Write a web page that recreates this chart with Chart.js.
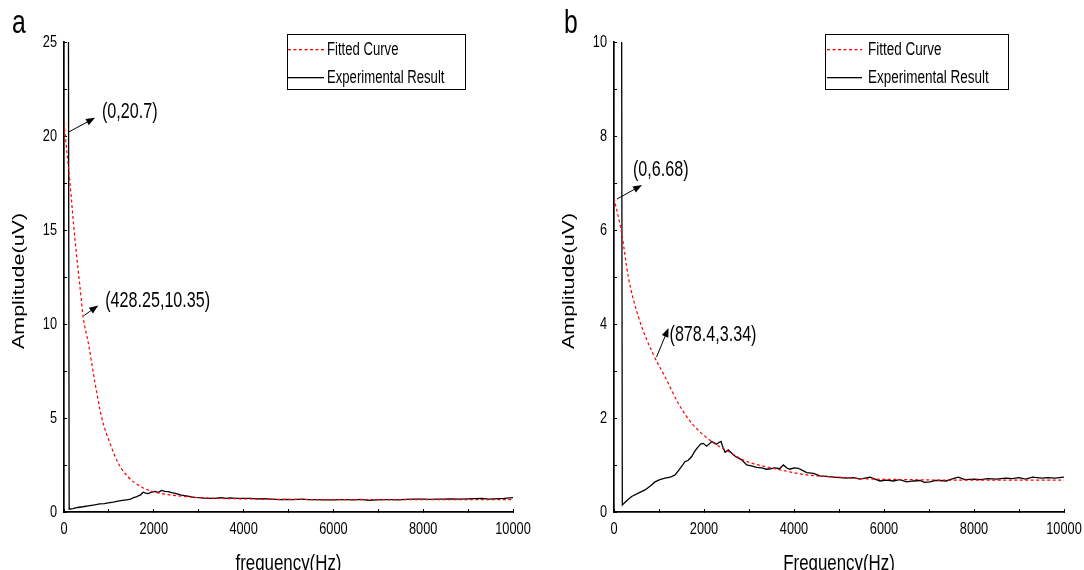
<!DOCTYPE html>
<html lang="en">
<head>
<meta charset="UTF-8">
<title>Amplitude vs frequency</title>
<script src="https://cdn.jsdelivr.net/npm/chart.js"></script>
<style>
  html, body { margin: 0; padding: 0; background: #fff; overflow: hidden; }
  .panel { position: absolute; top: 0; }
</style>
</head>
<body>
<div class="panel" style="left:0"><canvas id="chartA" width="542" height="570"></canvas></div>
<div class="panel" style="left:542px"><canvas id="chartB" width="542" height="570"></canvas></div>

<script>
// ---- panel a ----
const fitA_x = [0, 133, 244, 355, 428.25, 541, 689, 837, 1022, 1207, 1430, 1726, 2022, 2393, 3059, 3500, 4000, 5000, 6000, 7000, 8000, 9000, 10000];
const fitA_y = [20.7, 17.5, 14.5, 12.0, 10.35, 9.0, 6.9, 5.05, 3.67, 2.6, 1.86, 1.33, 1.06, 0.9, 0.76, 0.72, 0.7, 0.67, 0.66, 0.66, 0.66, 0.66, 0.66];

const expA_x = [
  90, 115, 200, 300, 420,
  541, 680, 800, 900, 985,
  1100, 1200, 1300, 1393, 1480,
  1550, 1610, 1652, 1700, 1763,
  1820, 1874, 1950, 2022, 2100,
  2170, 2250, 2319, 2400, 2500,
  2615, 2750, 2850, 2911, 3000,
  3133, 3250, 3350, 3500, 3620,
  3700, 3850, 4000, 4150, 4300,
  4450, 4600, 4800, 4950, 5100,
  5300, 5450, 5600, 5800, 6000,
  6150, 6300, 6450, 6600, 6800,
  6950, 7100, 7300, 7450, 7600,
  7800, 8000, 8150, 8300, 8450,
  8600, 8800, 9000, 9150, 9300,
  9450, 9600, 9800, 10000
];
const expA_y = [
  40, 0.15, 0.18, 0.24, 0.28,
  0.33, 0.38, 0.43, 0.45, 0.49,
  0.52, 0.58, 0.62, 0.65, 0.68,
  0.76, 0.8, 0.86, 0.9, 1.05,
  1.0, 0.98, 1.06, 1.1, 1.04,
  1.15, 1.1, 1.08, 1.03, 0.98,
  0.9, 0.85, 0.8, 0.78, 0.76,
  0.74, 0.73, 0.72, 0.76, 0.73,
  0.75, 0.72, 0.72, 0.73, 0.7,
  0.71, 0.69, 0.66, 0.67, 0.66,
  0.68, 0.66, 0.66, 0.64, 0.64,
  0.66, 0.66, 0.65, 0.67, 0.62,
  0.65, 0.66, 0.66, 0.64, 0.67,
  0.68, 0.69, 0.67, 0.69, 0.68,
  0.7, 0.69, 0.7, 0.71, 0.72,
  0.69, 0.7, 0.72, 0.76
];
const notesA = [
  { x: 0, y: 20.7, text: '(0,20.7)' },
  { x: 428.25, y: 10.35, text: '(428.25,10.35)' }
];

// ---- panel b ----
const fitB_x = [0, 171, 318, 540, 878.4, 1133, 1430, 1726, 2170, 2615, 2800, 3059, 3541, 4282, 5022, 5762, 6504, 7244, 8000, 9000, 10000];
const fitB_y = [6.68, 5.93, 5.0, 4.16, 3.34, 2.88, 2.31, 1.89, 1.50, 1.25, 1.14, 1.04, 0.93, 0.79, 0.74, 0.70, 0.69, 0.68, 0.68, 0.68, 0.68];

const expB_x = [
  140, 185, 280, 392, 540,
  689, 800, 911, 1020, 1133,
  1250, 1356, 1450, 1578, 1650,
  1726, 1800, 1874, 1930, 1985,
  2057, 2120, 2170, 2230, 2280,
  2330, 2378, 2420, 2467, 2540,
  2615, 2700, 2837, 2948, 3050,
  3170, 3280, 3393, 3480, 3578,
  3680, 3763, 3850, 3911, 4000,
  4096, 4200, 4282, 4430, 4578,
  4720, 4874, 5020, 5170, 5320,
  5467, 5580, 5689, 5800, 5911,
  6050, 6207, 6350, 6504, 6650,
  6800, 6900, 7022, 7130, 7244,
  7380, 7500, 7650, 7800, 8000,
  8150, 8300, 8500, 8700, 8850,
  9000, 9150, 9300, 9500, 9650,
  9800, 10000
];
const expB_y = [
  30, 0.15, 0.24, 0.33, 0.4,
  0.47, 0.55, 0.64, 0.69, 0.72,
  0.74, 0.79, 0.9, 1.07, 1.1,
  1.18, 1.3, 1.39, 1.45, 1.46,
  1.40, 1.45, 1.50, 1.47, 1.44,
  1.48, 1.50, 1.38, 1.27, 1.32,
  1.25, 1.18, 1.11, 1.0, 0.98,
  0.95, 0.94, 0.91, 0.92, 0.94,
  0.92, 1.0, 0.93, 0.91, 0.94,
  0.93, 0.88, 0.84, 0.82, 0.77,
  0.76, 0.74, 0.73, 0.72, 0.73,
  0.70, 0.72, 0.74, 0.70, 0.66,
  0.68, 0.66, 0.69, 0.64, 0.66,
  0.67, 0.63, 0.64, 0.67, 0.67,
  0.66, 0.70, 0.74, 0.69, 0.70,
  0.69, 0.71, 0.70, 0.72, 0.71,
  0.73, 0.70, 0.74, 0.72, 0.73,
  0.72, 0.74
];
const notesB = [
  { x: 0, y: 6.68, text: '(0,6.68)' },
  { x: 878.4, y: 3.34, text: '(878.4,3.34)' }
];

const seriesNames = ['Fitted Curve', 'Experimental Result'];
const seriesColors = ['#ff0000', '#000000'];
const seriesDash = [[3, 2.5], []];

// the source figure uses a squeezed Arial; emulate with a horizontal scale
const FONT = '"Liberation Sans", Arial, sans-serif';
const SX = 0.75;

function txt(ctx, str, x, y, size, align, baseline, rot) {
  ctx.save();
  ctx.translate(x, y);
  ctx.scale(SX, 1);
  if (rot) ctx.rotate(rot);
  ctx.font = size + 'px ' + FONT;
  ctx.fillStyle = '#000';
  ctx.textAlign = align;
  ctx.textBaseline = baseline;
  ctx.fillText(str, 0, 0);
  ctx.restore();
}

const pts = (xs, ys) => xs.map((x, i) => ({ x: x, y: ys[i] }));

// tick labels, axis titles, arrows, notes and the boxed legend
const overlay = {
  id: 'overlay',
  afterDraw(chart, args, opts) {
    const ctx = chart.ctx, xs = chart.scales.x, ys = chart.scales.y, ca = chart.chartArea;
    ctx.save();

    xs.ticks.forEach(t => {
      if (t.label === '' || t.label == null) return;
      txt(ctx, String(t.label), xs.getPixelForValue(t.value), ca.bottom + 17, 17, 'center', 'middle');
    });
    ys.ticks.forEach(t => {
      if (t.label === '' || t.label == null) return;
      txt(ctx, String(t.label), ca.left - 7, ys.getPixelForValue(t.value), 17, 'right', 'middle');
    });
    txt(ctx, opts.xTitle, (ca.left + ca.right) / 2, ca.bottom + 57.5, 22.5, 'center', 'alphabetic');
    txt(ctx, 'Amplitude(uV)', ca.left - 44, (ca.top + ca.bottom) / 2 + 4, 21.5, 'center', 'middle', -Math.PI / 2);
    txt(ctx, opts.tag, ca.left + opts.tagX, 33, 33, 'left', 'alphabetic');

    opts.notes.forEach((n, i) => {
      const st = opts.arrows[i];
      const px = xs.getPixelForValue(n.x), py = ys.getPixelForValue(n.y);
      const x1 = px + st.tail[0], y1 = py + st.tail[1];
      const x2 = px + st.head[0], y2 = py + st.head[1];
      const a = Math.atan2(y2 - y1, x2 - x1), c = Math.cos(a), s = Math.sin(a);
      ctx.strokeStyle = '#000'; ctx.fillStyle = '#000'; ctx.lineWidth = 1;
      ctx.beginPath(); ctx.moveTo(x1, y1); ctx.lineTo(x2 - 6 * c, y2 - 6 * s); ctx.stroke();
      ctx.beginPath(); ctx.moveTo(x2, y2);
      ctx.lineTo(x2 - 9 * c + 3.5 * s, y2 - 9 * s - 3.5 * c);
      ctx.lineTo(x2 - 9 * c - 3.5 * s, y2 - 9 * s + 3.5 * c);
      ctx.closePath(); ctx.fill();
      txt(ctx, n.text, px + st.label[0], py + st.label[1], 21.5, 'left', 'middle');
    });

    const lg = opts.legend;
    const bx = Math.round(ca.left + lg.left), by = Math.round(ca.top + lg.top);
    ctx.lineWidth = 1; ctx.strokeStyle = '#000'; ctx.setLineDash([]);
    ctx.strokeRect(bx + 0.5, by + 0.5, lg.width, lg.height);
    seriesNames.forEach((name, i) => {
      const ry = Math.round(by + lg.rows[i]);
      ctx.fillStyle = seriesColors[i];
      const dash = seriesDash[i];
      if (dash.length) {
        for (let x = bx + lg.line[0]; x < bx + lg.line[1]; x += dash[0] + dash[1]) {
          ctx.fillRect(x, ry, Math.min(dash[0], bx + lg.line[1] - x), 1.3);
        }
      } else {
        ctx.fillRect(bx + lg.line[0], ry, lg.line[1] - lg.line[0], 1.3);
      }
      txt(ctx, name, bx + lg.textX, ry + 1, lg.size, 'left', 'middle');
    });
    ctx.restore();
  }
};

function makeChart(id, cfg) {
  return new Chart(document.getElementById(id), {
    type: 'line',
    data: {
      datasets: [{
        label: seriesNames[0],
        data: pts(cfg.fitX, cfg.fitY),
        borderColor: seriesColors[0],
        borderWidth: 1.2,
        borderDash: seriesDash[0],
        pointRadius: 0,
        cubicInterpolationMode: 'monotone',
        fill: false
      }, {
        label: seriesNames[1],
        data: pts(cfg.expX, cfg.expY),
        borderColor: seriesColors[1],
        borderWidth: 1.3,
        pointRadius: 0,
        tension: 0,
        fill: false
      }]
    },
    options: {
      responsive: false,
      animation: false,
      layout: { padding: { top: 42, right: cfg.padRight, left: 0, bottom: 0 } },
      plugins: {
        legend: { display: false },
        tooltip: { enabled: false },
        overlay: {
          notes: cfg.notes, arrows: cfg.arrows, legend: cfg.legend,
          xTitle: cfg.xTitle, tag: cfg.tag, tagX: cfg.tagX
        }
      },
      scales: {
        x: {
          type: 'linear',
          min: 0, max: 10000,
          afterFit: s => { s.height = 58; },
          grid: { drawOnChartArea: false, drawTicks: true, tickLength: -3, color: '#000', lineWidth: 1 },
          border: { display: true, color: '#000', width: 1.7 },
          ticks: {
            stepSize: 1000, autoSkip: false, maxRotation: 0,
            color: 'rgba(0,0,0,0)', font: { size: 8 },
            callback: v => (v % 2000 === 0 ? v : '')
          }
        },
        y: {
          min: 0, max: cfg.yMax,
          afterFit: s => { s.width = cfg.yWidth; },
          grid: { drawOnChartArea: false, drawTicks: true, tickLength: -3, color: '#000', lineWidth: 1 },
          border: { display: true, color: '#000', width: 1.7 },
          ticks: {
            stepSize: cfg.yStep, autoSkip: false,
            color: 'rgba(0,0,0,0)', font: { size: 8 },
            callback: v => (Math.abs(v % cfg.yLabelStep) < 1e-9 ? v : '')
          }
        }
      }
    },
    plugins: [overlay]
  });
}

makeChart('chartA', {
  fitX: fitA_x, fitY: fitA_y, expX: expA_x, expY: expA_y,
  notes: notesA,
  arrows: [
    { tail: [5, 9], head: [31, -5], label: [38, -11] },
    { tail: [1, -2], head: [15, -12], label: [22, -16] }
  ],
  legend: { left: 223, top: -8, width: 178, height: 55, rows: [15, 43], line: [1, 37], textX: 40, size: 17.5 },
  xTitle: 'frequency(Hz)', tag: 'a', tagX: -52,
  yMax: 25, yStep: 2.5, yLabelStep: 5,
  yWidth: 64, padRight: 29
});

makeChart('chartB', {
  fitX: fitB_x, fitY: fitB_y, expX: expB_x, expY: expB_y,
  notes: notesB,
  arrows: [
    { tail: [3, 1], head: [28, -13], label: [19, -28] },
    { tail: [3, 2], head: [15, -27], label: [16, -20] }
  ],
  legend: { left: 211, top: -8, width: 183, height: 55, rows: [15, 43], line: [2, 37], textX: 43, size: 18 },
  xTitle: 'Frequency(Hz)', tag: 'b', tagX: -50,
  yMax: 10, yStep: 1, yLabelStep: 2,
  yWidth: 72, padRight: 20
});
</script>
</body>
</html>
